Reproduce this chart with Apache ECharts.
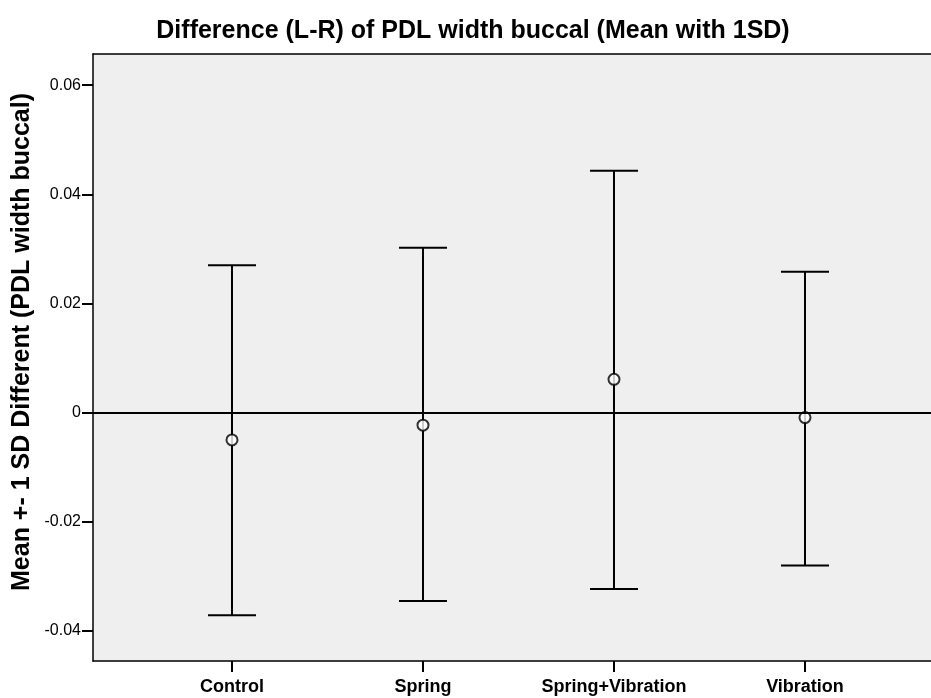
<!DOCTYPE html>
<html><head><meta charset="utf-8">
<script src="https://cdn.jsdelivr.net/npm/echarts@6/dist/echarts.min.js"></script>
<style>html,body{margin:0;padding:0;background:#fff}#c{width:931px;height:698px}</style>
</head><body><div id="c"></div>
<script>
const categories = ['Control', 'Spring', 'Spring+Vibration', 'Vibration'];
const means = [-0.005, -0.0023, 0.0061, -0.0009];
const upper = [0.0270, 0.0302, 0.0443, 0.0258];
const lower = [-0.0371, -0.0345, -0.0323, -0.0280];
const yTicks = [-0.04, -0.02, 0, 0.02, 0.04, 0.06];
const yTickLabels = ['-0.04', '-0.02', '0', '0.02', '0.04', '0.06'];
const titleText = 'Difference (L-R) of PDL width buccal (Mean with 1SD)';
const yName = 'Mean +- 1 SD Different (PDL width buccal)';

const chart = echarts.init(document.getElementById('c'), null, {renderer: 'canvas'});
const font = 'Arial, "Liberation Sans", Helvetica, sans-serif';
const xPos = categories.map((c, i) => i + 1);
const xMin = 0.2723, xMax = 4.6597;

chart.setOption({
  animation: false,
  title: {
    text: titleText,
    left: 468, top: 14, textAlign: 'center',
    textStyle: {fontFamily: font, fontSize: 25, fontWeight: 'bold', color: '#000'}
  },
  graphic: [{
    type: 'text', x: 22, y: 342, rotation: Math.PI / 2,
    style: {text: yName, fontFamily: font, fontSize: 25, fontWeight: 'bold', fill: '#000', align: 'center', verticalAlign: 'middle'}
  }],
  grid: {left: 93, top: 54, right: 0, bottom: 37, show: true, backgroundColor: '#efefef', borderWidth: 0},
  xAxis: [{
    type: 'value', min: xMin, max: xMax,
    axisLine: {show: true, onZero: false, lineStyle: {color: '#000', width: 1.5}},
    axisTick: {show: true, length: 11, customValues: xPos, lineStyle: {color: '#000', width: 2}},
    splitLine: {show: false},
    axisLabel: {customValues: xPos, margin: 17, fontFamily: font, fontSize: 18, fontWeight: 'bold', color: '#000',
      formatter: v => categories[Math.round(v) - 1] || ''}
  }, {
    type: 'value', min: xMin, max: xMax, position: 'top',
    axisLine: {show: true, onZero: false, lineStyle: {color: '#000', width: 1.5}},
    axisTick: {show: false}, axisLabel: {show: false}, splitLine: {show: false}
  }],
  yAxis: {
    type: 'value', min: -0.0455, max: 0.0657,
    axisLine: {show: true, lineStyle: {color: '#000', width: 1.5}},
    axisTick: {show: true, length: 11, customValues: yTicks, lineStyle: {color: '#000', width: 2}},
    splitLine: {show: false},
    axisLabel: {customValues: yTicks, margin: 12, fontFamily: font, fontSize: 16, color: '#000',
      formatter: v => { const i = yTicks.findIndex(t => Math.abs(t - v) < 1e-9); return i >= 0 ? yTickLabels[i] : ''; }}
  },
  series: [
    {
      type: 'custom',
      data: categories.map((c, i) => [i + 1, lower[i], upper[i]]),
      renderItem: (params, api) => {
        const x = api.value(0);
        const lo = api.coord([x, api.value(1)]);
        const hi = api.coord([x, api.value(2)]);
        const hw = 24;
        const st = {stroke: '#000', lineWidth: 2};
        return {type: 'group', children: [
          {type: 'line', shape: {x1: lo[0], y1: lo[1], x2: hi[0], y2: hi[1]}, style: st},
          {type: 'line', shape: {x1: hi[0] - hw, y1: hi[1], x2: hi[0] + hw, y2: hi[1]}, style: st},
          {type: 'line', shape: {x1: lo[0] - hw, y1: lo[1], x2: lo[0] + hw, y2: lo[1]}, style: st}
        ]};
      },
      z: 2
    },
    {
      type: 'scatter',
      data: categories.map((c, i) => [i + 1, means[i]]),
      symbol: 'emptyCircle', symbolSize: 11,
      itemStyle: {color: '#000', borderColor: '#000', borderWidth: 1.6},
      z: 4,
      markLine: {
        silent: true, symbol: 'none', label: {show: false},
        lineStyle: {color: '#000', width: 2, type: 'solid'},
        data: [{yAxis: 0}]
      }
    }
  ]
});
</script></body></html>
